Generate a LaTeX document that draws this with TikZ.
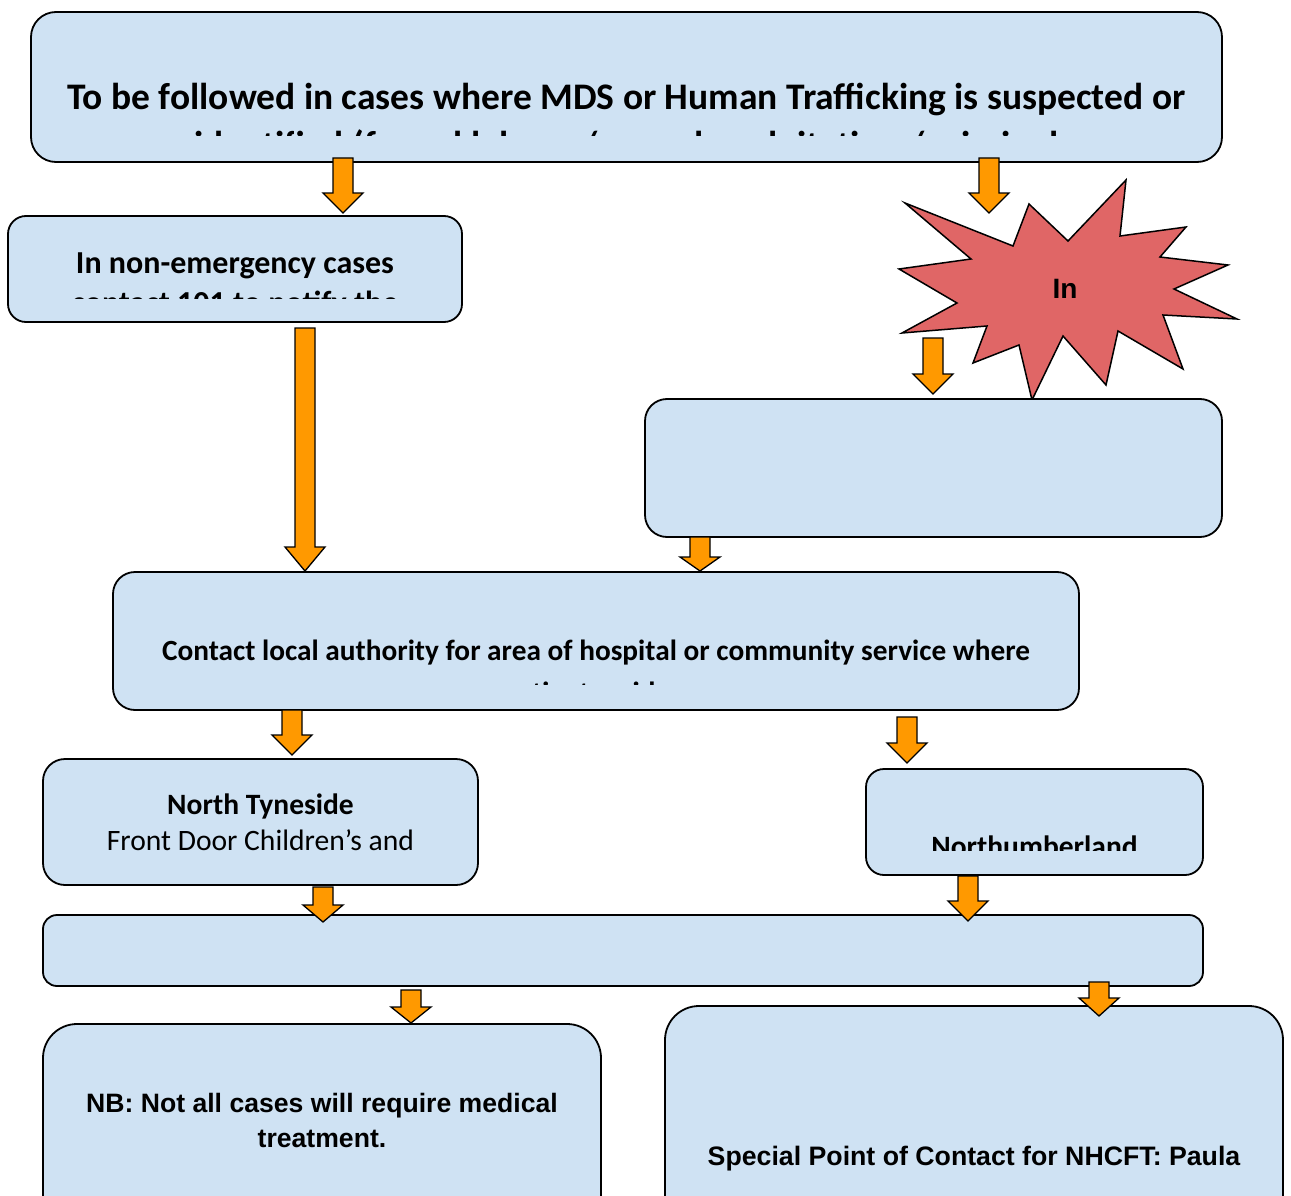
\documentclass[tikz,border=0pt]{standalone}
\usepackage{fontspec}
\setmainfont{Carlito}
\newfontfamily\arialfont{Liberation Sans}
\definecolor{boxblue}{RGB}{207,226,243}
\definecolor{starred}{RGB}{224,102,102}
\definecolor{arroworange}{RGB}{255,153,0}
\tikzset{
  flowbox/.style={draw=black, line width=1.8pt, fill=boxblue, rounded corners=22pt, inner sep=0pt, outer sep=0pt},
  blockarr/.style={draw=black, line width=1.3pt, fill=arroworange, line join=miter},
  ctext/.style={inner sep=0pt, anchor=base, font=\fontsize{#1}{#1}\selectfont\bfseries},
  atext/.style={inner sep=0pt, anchor=base, font=\arialfont\fontsize{#1}{#1}\selectfont\bfseries},
}
\newcommand\barrow[4]{\draw[blockarr] (#1-10,#2) -- (#1+10,#2) -- (#1+10,#3-#4) -- (#1+20,#3-#4) -- (#1,#3) -- (#1-20,#3-#4) -- (#1-10,#3-#4) -- cycle;}
\begin{document}
\begin{tikzpicture}[x=1pt,y=-1pt]
\useasboundingbox (0,0) rectangle (1291,1196);
\clip (0,0) rectangle (1291,1196);
% top box
\node[flowbox, minimum width=1191pt, minimum height=150pt, rounded corners=25pt] (top) at (626.5,87) {};
\node[ctext=37.5] (toptxt) at (626.5,110) {To be followed in cases where MDS or Human Trafficking is suspected or};
\begin{scope}
\clip (31,12) rectangle (1222,136);
\node[ctext=37.5] (toptxt2) at (626.5,158) {identified (forced labour / sexual exploitation / criminal};
\end{scope}
% non-emergency
\node[flowbox, minimum width=454pt, minimum height=106pt, rounded corners=18pt] (nonem) at (235,269) {};
\node[ctext=32] (nonemtxt) at (235,273) {In non-emergency cases};
\begin{scope}
\clip (8,216) rectangle (462,298);
\node[ctext=32] (nonemtxt2) at (235,313) {contact 101 to notify the};
\end{scope}
% star
\draw[fill=starred, draw=black, line width=1.5pt, line join=miter] (905,203) -- (1013,246) -- (1029,204) -- (1068,241) -- (1126,180) -- (1120,236) -- (1186,227) -- (1160,257) -- (1228,265) -- (1174,289) -- (1237,319) -- (1163,315) -- (1183,369) -- (1118,331) -- (1106,385) -- (1063,336) -- (1032,400) -- (1019,345) -- (973,363) -- (987,326) -- (902,333) -- (957,303) -- (899,269) -- (971,259) -- cycle;
\node[atext=28] (startxt) at (1065,298) {In};
% right box
\node[flowbox, minimum width=577pt, minimum height=138pt] (rbox) at (933.5,468) {};
% contact
\node[flowbox, minimum width=966pt, minimum height=138pt] (contact) at (596,641) {};
\node[ctext=29.3] (contacttxt) at (596,660) {Contact local authority for area of hospital or community service where};
\begin{scope}
\clip (113,572) rectangle (1079,684);
\node[ctext=29.3] (contacttxt2) at (596,702) {patient resides.};
\end{scope}
% North Tyneside
\node[flowbox, minimum width=435pt, minimum height=126pt] (nty) at (260.5,822) {};
\node[ctext=29.5] (ntytxt) at (260.5,814) {North Tyneside};
\node[inner sep=0pt, anchor=base, font=\fontsize{29.6}{29.6}\selectfont] (ntytxt2) at (260.5,850) {Front Door Children’s and};
% Northumberland
\node[flowbox, minimum width=337pt, minimum height=106pt, rounded corners=18pt] (nland) at (1034.5,822) {};
\begin{scope}
\clip (866,769) rectangle (1203,850);
\node[ctext=29.5] (nlandtxt) at (1034.5,856) {Northumberland};
\end{scope}
% wide box
\node[flowbox, minimum width=1160pt, minimum height=71pt, rounded corners=14pt] (wide) at (623,950.5) {};
% NB box
\node[flowbox, minimum width=558pt, minimum height=216pt, rounded corners=34pt] (nb) at (322,1132) {};
\node[atext=26.6] (nbtxt) at (322,1112) {NB: Not all cases will require medical};
\node[atext=26.6] (nbtxt2) at (322,1147) {treatment.};
% special box
\node[flowbox, minimum width=618pt, minimum height=234pt, rounded corners=34pt] (spc) at (974,1123) {};
\node[atext=26.7] (spctxt) at (974,1165) {Special Point of Contact for NHCFT: Paula};
% block arrows (drawn on top)
\barrow{343}{158}{213}{20}
\barrow{989}{158}{213}{20}
\barrow{933}{338}{394}{20}
\barrow{305}{328}{571}{24}
\barrow{700}{537}{571}{14}
\barrow{292}{710}{755}{20}
\barrow{907}{717}{763}{20}
\barrow{323}{887}{922}{17}
\barrow{968}{876}{921}{20}
\barrow{411}{990}{1023}{16}
\barrow{1099}{982}{1016}{18}
\end{tikzpicture}
\end{document}
